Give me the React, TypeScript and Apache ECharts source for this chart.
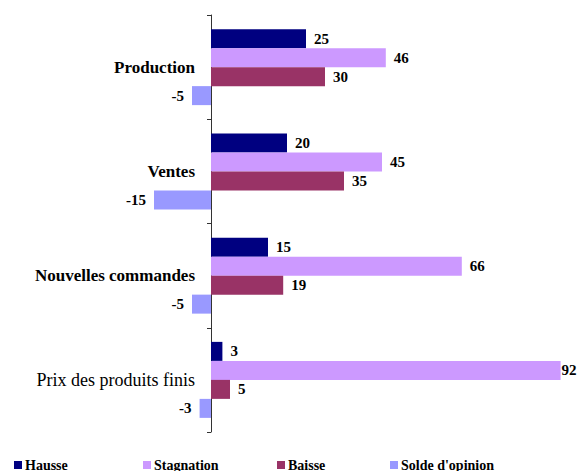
import React, { useEffect, useRef } from "react";
import * as echarts from "echarts";

const categories = ["Production", "Ventes", "Nouvelles commandes", "Prix des produits finis"];
const boldCategory = [true, true, true, false];
const seriesNames = ["Hausse", "Stagnation", "Baisse", "Solde d'opinion"];
const hausse = [25, 20, 15, 3];
const stagnation = [46, 45, 66, 92];
const baisse = [30, 35, 19, 5];
const solde = [-5, -15, -5, -3];

const colors = ["#000080", "#CC99FF", "#993366", "#9999FF"];
const legendLeft = [14, 143, 277, 390];
const FONT = "Liberation Serif";

export default function App() {
  const ref = useRef<HTMLDivElement>(null);
  useEffect(() => {
    if (!ref.current) return;
    const chart = echarts.init(ref.current, undefined, { renderer: "svg" });
    const values = [hausse, stagnation, baisse, solde];
    const labelBase = {
      show: true,
      color: "#000",
      fontFamily: FONT,
      fontSize: 15,
      fontWeight: "bold" as const,
      distance: 8,
    };
    const series = values.map((vals, si) => ({
      name: seriesNames[si],
      type: "bar",
      barWidth: 19,
      barGap: "0%",
      itemStyle: { color: colors[si] },
      label: { ...labelBase, position: si === 3 ? "left" : "right" },
      data: vals.map((v) => (v > 90 ? { value: v, label: { distance: 1 } } : v)),
    }));
    const legendText = {
      color: "#000",
      fontFamily: FONT,
      fontSize: 14,
      fontWeight: "bold",
    };
    chart.setOption({
      animation: false,
      grid: { left: 59, right: 7, top: 15, bottom: 39, containLabel: false, outerBoundsMode: "none" },
      xAxis: {
        type: "value",
        min: -40,
        max: 95,
        show: false,
        splitLine: { show: false },
      },
      yAxis: {
        type: "category",
        inverse: true,
        data: categories.map((c, i) => ({
          value: c,
          textStyle: {
            color: "#000",
            fontFamily: FONT,
            fontSize: boldCategory[i] ? 17 : 18,
            fontWeight: boldCategory[i] ? "bold" : "normal",
          },
        })),
        axisLine: { show: true, onZero: true, lineStyle: { color: "#333", width: 1 } },
        axisTick: { show: true, length: 4, lineStyle: { color: "#333" } },
        axisLabel: {
          color: "#000",
          fontFamily: FONT,
          fontSize: 17,
          margin: -136,
        },
        splitLine: { show: false },
      },
      legend: seriesNames.map((n, i) => ({
        data: [{ name: n, textStyle: legendText }],
        left: legendLeft[i],
        top: 458,
        padding: 0,
        icon: "rect",
        itemWidth: 8,
        itemHeight: 8,
        itemGap: 0,
        textStyle: { ...legendText, padding: [0, 0, 0, -2] },
      })),
      series,
    });
    return () => chart.dispose();
  }, []);
  return (
    <div
      ref={ref}
      style={{ position: "fixed", left: 0, top: 0, width: 579, height: 471, background: "#fff" }}
    />
  );
}
